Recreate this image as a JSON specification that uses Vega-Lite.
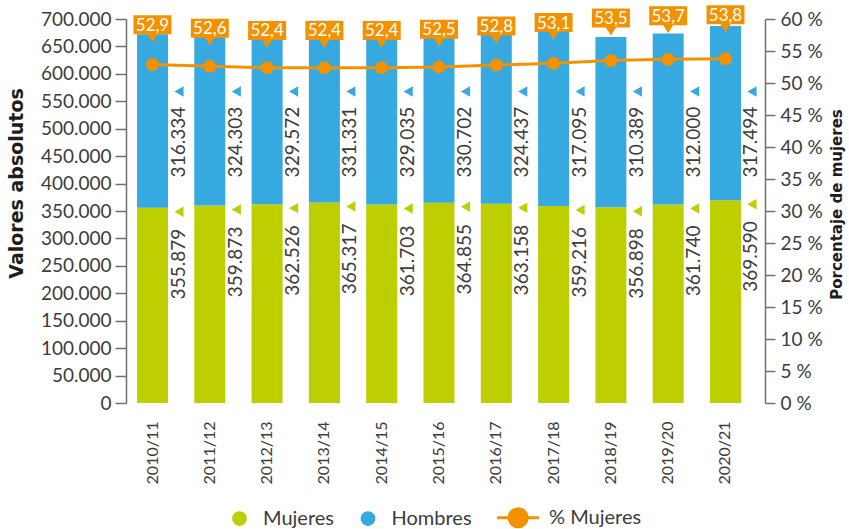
{
  "$schema": "https://vega.github.io/schema/vega-lite/v6.json",
  "autosize": {"type": "none"},
  "padding": {"left": 126, "top": 19, "right": 84, "bottom": 126},
  "width": 639,
  "height": 384,
  "datasets": {
    "bars": [
      {"curso": "2010/11", "sexo": "Mujeres", "valor": 355879},
      {"curso": "2010/11", "sexo": "Hombres", "valor": 316334},
      {"curso": "2011/12", "sexo": "Mujeres", "valor": 359873},
      {"curso": "2011/12", "sexo": "Hombres", "valor": 324303},
      {"curso": "2012/13", "sexo": "Mujeres", "valor": 362526},
      {"curso": "2012/13", "sexo": "Hombres", "valor": 329572},
      {"curso": "2013/14", "sexo": "Mujeres", "valor": 365317},
      {"curso": "2013/14", "sexo": "Hombres", "valor": 331331},
      {"curso": "2014/15", "sexo": "Mujeres", "valor": 361703},
      {"curso": "2014/15", "sexo": "Hombres", "valor": 329035},
      {"curso": "2015/16", "sexo": "Mujeres", "valor": 364855},
      {"curso": "2015/16", "sexo": "Hombres", "valor": 330702},
      {"curso": "2016/17", "sexo": "Mujeres", "valor": 363158},
      {"curso": "2016/17", "sexo": "Hombres", "valor": 324437},
      {"curso": "2017/18", "sexo": "Mujeres", "valor": 359216},
      {"curso": "2017/18", "sexo": "Hombres", "valor": 317095},
      {"curso": "2018/19", "sexo": "Mujeres", "valor": 356898},
      {"curso": "2018/19", "sexo": "Hombres", "valor": 310389},
      {"curso": "2019/20", "sexo": "Mujeres", "valor": 361740},
      {"curso": "2019/20", "sexo": "Hombres", "valor": 312000},
      {"curso": "2020/21", "sexo": "Mujeres", "valor": 369590},
      {"curso": "2020/21", "sexo": "Hombres", "valor": 317494}
    ],
    "pct": [
      {"curso": "2010/11", "pct": 52.9},
      {"curso": "2011/12", "pct": 52.6},
      {"curso": "2012/13", "pct": 52.4},
      {"curso": "2013/14", "pct": 52.4},
      {"curso": "2014/15", "pct": 52.4},
      {"curso": "2015/16", "pct": 52.5},
      {"curso": "2016/17", "pct": 52.8},
      {"curso": "2017/18", "pct": 53.1},
      {"curso": "2018/19", "pct": 53.5},
      {"curso": "2019/20", "pct": 53.7},
      {"curso": "2020/21", "pct": 53.8}
    ]
  },
  "config": {
    "locale": {"number": {"decimal": ",", "thousands": ".", "grouping": [3], "currency": ["", " €"]}},
    "font": "Lato",
    "view": {"stroke": null},
    "axis": {
      "labelFont": "Lato",
      "labelFontSize": 19,
      "labelColor": "#3c3c3b",
      "titleFont": "DejaVu Sans",
      "titleColor": "#1d1d1b",
      "grid": false,
      "domainColor": "#6f6f6e",
      "tickColor": "#6f6f6e",
      "domainWidth": 1.5,
      "tickWidth": 1.5
    },
    "legend": {
      "labelFont": "Lato",
      "labelFontSize": 20,
      "labelColor": "#3c3c3b"
    }
  },
  "encoding": {
    "x": {
      "field": "curso",
      "type": "ordinal",
      "scale": {"type": "band", "paddingInner": 0, "paddingOuter": 0.076},
      "axis": {
        "title": null,
        "labelAngle": -90,
        "labelAlign": "right",
        "labelBaseline": "middle",
        "ticks": false,
        "tickSize": 0,
        "domain": false,
        "labelPadding": 18,
        "labelOffset": -6.5,
        "labelFontSize": 16
      }
    }
  },
  "layer": [
    {
      "data": {"name": "bars"},
      "mark": {"type": "bar", "size": 31, "xOffset": -6.5},
      "encoding": {
        "y": {
          "field": "valor",
          "type": "quantitative",
          "stack": "zero",
          "scale": {"domain": [0, 700000], "nice": false},
          "axis": {
            "orient": "left",
            "title": "Valores absolutos",
            "values": [0, 50000, 100000, 150000, 200000, 250000, 300000, 350000, 400000, 450000, 500000, 550000, 600000, 650000, 700000],
            "format": ",.0f",
            "tickSize": 11,
            "labelPadding": 4,
            "titleFontSize": 19,
            "titleFontWeight": "bold",
            "titlePadding": 14,
            "titleY": 164
          }
        },
        "color": {
          "field": "sexo",
          "type": "nominal",
          "scale": {"domain": ["Mujeres", "Hombres", "% Mujeres"], "range": ["#BDCF00", "#36A9E1", "#F39200"]},
          "legend": {
            "title": null,
            "orient": "none",
            "legendX": 91,
            "legendY": 476,
            "padding": 0,
            "direction": "horizontal",
            "symbolSize": 1764,
            "symbolStrokeWidth": 3,
            "labelOffset": 1,
            "columnPadding": 11.5,
            "encode": {
              "symbols": {
                "update": {
                  "shape": {"signal": "datum.value === '% Mujeres' ? 'M-0.448,0L1.552,0M0.982,0A0.43,0.43,0,1,1,0.122,0A0.43,0.43,0,1,1,0.982,0Z' : 'M0.35,0A0.35,0.35,0,1,1,-0.35,0A0.35,0.35,0,1,1,0.35,0Z'"},
                  "stroke": {"signal": "datum.value === '% Mujeres' ? '#F39200' : 'transparent'"},
                  "strokeWidth": {"value": 3},
                  "opacity": {"value": 1}
                }
              },
              "labels": {
                "update": {
                  "dx": {"signal": "datum.value === '% Mujeres' ? 19 : 0"}
                }
              }
            }
          }
        },
        "order": {"field": "sexo", "sort": "descending"}
      }
    },
    {
      "data": {"name": "bars"},
      "transform": [{"filter": "datum.sexo === 'Hombres'"}],
      "mark": {"type": "text", "angle": 270, "align": "right", "baseline": "middle", "fontSize": 19, "color": "#3c3c3b", "xOffset": 19.5},
      "encoding": {
        "y": {"datum": 540000, "type": "quantitative", "scale": {"domain": [0, 700000], "nice": false}, "axis": null},
        "text": {"field": "valor", "type": "quantitative", "format": ","}
      }
    },
    {
      "data": {"name": "bars"},
      "transform": [{"filter": "datum.sexo === 'Hombres'"}],
      "mark": {"type": "point", "shape": "triangle-left", "filled": true, "size": 110, "color": "#36A9E1", "opacity": 1, "xOffset": 20},
      "encoding": {
        "y": {"datum": 568000, "type": "quantitative", "scale": {"domain": [0, 700000], "nice": false}, "axis": null}
      }
    },
    {
      "data": {"name": "bars"},
      "transform": [{"filter": "datum.sexo === 'Mujeres'"}],
      "mark": {"type": "text", "angle": 270, "align": "right", "baseline": "middle", "fontSize": 19, "color": "#3c3c3b", "xOffset": 19.5, "yOffset": 21},
      "encoding": {
        "y": {"field": "valor", "type": "quantitative", "scale": {"domain": [0, 700000], "nice": false}, "axis": null},
        "text": {"field": "valor", "type": "quantitative", "format": ","}
      }
    },
    {
      "data": {"name": "bars"},
      "transform": [{"filter": "datum.sexo === 'Mujeres'"}],
      "mark": {"type": "point", "shape": "triangle-left", "filled": true, "size": 110, "color": "#BDCF00", "opacity": 1, "xOffset": 20, "yOffset": 4},
      "encoding": {
        "y": {"field": "valor", "type": "quantitative", "scale": {"domain": [0, 700000], "nice": false}, "axis": null}
      }
    },
    {
      "data": {"name": "pct"},
      "mark": {"type": "line", "color": "#F39200", "strokeWidth": 3, "xOffset": -6.5},
      "encoding": {
        "y": {
          "field": "pct",
          "type": "quantitative",
          "scale": {"domain": [0, 60], "nice": false},
          "axis": {
            "orient": "right",
            "title": "Porcentaje de mujeres",
            "values": [0, 5, 10, 15, 20, 25, 30, 35, 40, 45, 50, 55, 60],
            "labelExpr": "datum.value + ' %'",
            "tickSize": 10,
            "labelPadding": 5,
            "titleAngle": 270,
            "titleBaseline": "top",
            "titleFontSize": 15,
            "titleFontWeight": "bold",
            "titlePadding": 7,
            "titleY": 185
          }
        }
      }
    },
    {
      "data": {"name": "pct"},
      "mark": {"type": "point", "filled": true, "size": 169, "color": "#F39200", "opacity": 1, "xOffset": -6.5},
      "encoding": {
        "y": {"field": "pct", "type": "quantitative", "scale": {"domain": [0, 60], "nice": false}, "axis": null}
      }
    },
    {
      "data": {"name": "pct"},
      "mark": {"type": "point", "filled": true, "shape": "M-0.95,-0.475H0.95V0.475H0.25L0,0.875L-0.25,0.475H-0.95Z", "size": 1600, "color": "#F39200", "opacity": 1, "xOffset": -6.5},
      "encoding": {
        "y": {"field": "pct", "type": "quantitative", "scale": {"domain": [19.13, 53.42], "nice": false, "zero": false}, "axis": null}
      }
    },
    {
      "data": {"name": "pct"},
      "mark": {"type": "text", "color": "#ffffff", "fontSize": 17, "baseline": "middle", "align": "center", "xOffset": -6.5, "yOffset": 1},
      "encoding": {
        "y": {"field": "pct", "type": "quantitative", "scale": {"domain": [19.13, 53.42], "nice": false, "zero": false}, "axis": null},
        "text": {"field": "pct", "type": "quantitative", "format": ".1f"}
      }
    }
  ],
  "resolve": {"scale": {"y": "independent"}}
}
